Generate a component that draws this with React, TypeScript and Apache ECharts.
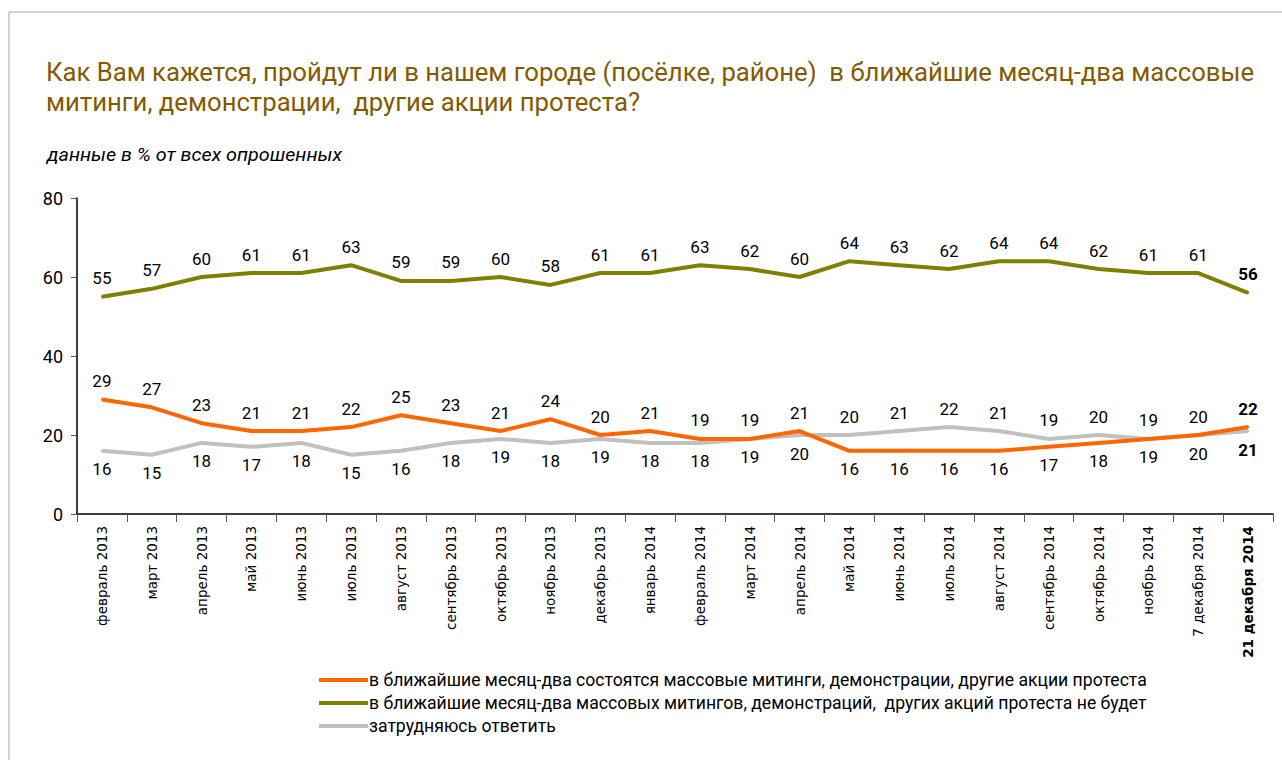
import React, { useEffect, useRef } from "react";
import * as echarts from "echarts";

const categories = [
  "февраль 2013", "март 2013", "апрель 2013", "май 2013", "июнь 2013", "июль 2013",
  "август 2013", "сентябрь 2013", "октябрь 2013", "ноябрь 2013", "декабрь 2013", "январь 2014",
  "февраль 2014", "март 2014", "апрель 2014", "май 2014", "июнь 2014", "июль 2014",
  "август 2014", "сентябрь 2014", "октябрь 2014", "ноябрь 2014", "7 декабря 2014", "21 декабря 2014",
];
const willHappen = [29, 27, 23, 21, 21, 22, 25, 23, 21, 24, 20, 21, 19, 19, 21, 16, 16, 16, 16, 17, 18, 19, 20, 22];
const wontHappen = [55, 57, 60, 61, 61, 63, 59, 59, 60, 58, 61, 61, 63, 62, 60, 64, 63, 62, 64, 64, 62, 61, 61, 56];
const hardToSay = [16, 15, 18, 17, 18, 15, 16, 18, 19, 18, 19, 18, 18, 19, 20, 20, 21, 22, 21, 19, 20, 19, 20, 21];
const yTicks = { min: 0, max: 80, interval: 20 };

const seriesNames = [
  "в ближайшие месяц-два состоятся массовые митинги, демонстрации, другие акции протеста",
  "в ближайшие месяц-два массовых митингов, демонстраций,  других акций протеста не будет",
  "затрудняюсь ответить",
];
const titleLines = [
  "Как Вам кажется, пройдут ли в нашем городе (посёлке, районе)  в ближайшие месяц-два массовые",
  "митинги, демонстрации,  другие акции протеста?",
];
const subtitle = "данные в % от всех опрошенных";

const FONT = "Roboto, 'Noto Sans', sans-serif";

function measure(text: string, font: string): number {
  const c = document.createElement("canvas");
  const ctx = c.getContext("2d");
  if (!ctx) return 1;
  ctx.font = font;
  return ctx.measureText(text).width || 1;
}

export default function App() {
  const ref = useRef<HTMLDivElement>(null);
  useEffect(() => {
    if (!ref.current) return;
    const chart = echarts.init(ref.current, undefined, { renderer: "svg" });
    const last = categories.length - 1;

    const titleFont = `26px ${FONT}`;
    const titleScale = 1209 / measure(titleLines[0], titleFont);
    const subFont = `italic 19px ${FONT}`;
    const subScale = 295 / measure(subtitle, subFont);
    const legendSize = (18 * 778) / measure(seriesNames[0], `18px ${FONT}`);

    const mk = (vals: number[], sideFn: (i: number) => "top" | "bottom") =>
      vals.map((v, i) => ({
        value: v,
        label: { position: sideFn(i), fontWeight: i === last ? "bold" : "normal" },
      }));
    const lineLabel = {
      show: true,
      distance: 9,
      fontFamily: FONT,
      fontSize: 17,
      color: "#000",
    };
    const lineSeries = (name: string, color: string, data: any[], z: number) => ({
      name,
      type: "line",
      symbol: "circle",
      symbolSize: 2,
      showSymbol: true,
      color,
      itemStyle: { color },
      lineStyle: { width: 4, color },
      label: lineLabel,
      data,
      z,
    });

    chart.setOption({
      animation: false,
      backgroundColor: "#fff",
      graphic: [
        {
          type: "rect",
          shape: { x: 9, y: 12, width: 2000, height: 2000 },
          style: { fill: "none", stroke: "#aaa", lineWidth: 1 },
          silent: true,
        },
        ...titleLines.map((t, i) => ({
          type: "text",
          x: 46,
          y: 72 + i * 30,
          scaleX: titleScale,
          style: {
            text: t,
            font: titleFont,
            fill: "#845A00",
            verticalAlign: "middle",
          },
        })),
        {
          type: "text",
          x: 47,
          y: 155,
          scaleX: subScale,
          style: {
            text: subtitle,
            font: subFont,
            fill: "#000",
            verticalAlign: "middle",
          },
        },
      ],
      legend: {
        orient: "vertical",
        left: 314,
        top: 666,
        itemWidth: 49,
        itemHeight: 4,
        itemGap: 5,
        icon: "rect",
        textStyle: {
          fontFamily: FONT,
          fontSize: legendSize,
          lineHeight: 18,
          height: 18,
          color: "#000",
          padding: [0, 0, 0, -4],
        },
        data: seriesNames,
      },
      grid: { left: 77, right: 9, top: 198, bottom: 246, containLabel: false },
      xAxis: {
        type: "category",
        data: categories,
        boundaryGap: true,
        axisLine: { lineStyle: { color: "#000", width: 1.5 } },
        axisTick: { show: true, length: 8, interval: 0, lineStyle: { color: "#555" } },
        axisLabel: {
          interval: 0,
          rotate: 90,
          margin: 12,
          fontFamily: "'DejaVu Sans', sans-serif",
          fontSize: 13.5,
          color: "#000",
          formatter: (v: string, i: number) => (i === last ? `{b|${v}}` : v),
          rich: { b: { fontWeight: "bold", fontFamily: "'DejaVu Sans', sans-serif", fontSize: 13.5, color: "#000" } },
        },
      },
      yAxis: {
        type: "value",
        min: yTicks.min,
        max: yTicks.max,
        interval: yTicks.interval,
        splitLine: { show: false },
        axisLine: { show: true, lineStyle: { color: "#000", width: 1.5 } },
        axisTick: { show: true, length: 6, lineStyle: { color: "#555" } },
        axisLabel: { fontFamily: FONT, fontSize: 18, color: "#000", margin: 14 },
      },
      series: [
        lineSeries(seriesNames[0], "#FF6600", mk(willHappen, (i) => (i >= 15 && i <= 22 ? "bottom" : "top")), 3),
        lineSeries(seriesNames[1], "#808000", mk(wontHappen, () => "top"), 3),
        lineSeries(seriesNames[2], "#C0C0C0", mk(hardToSay, (i) => (i >= 15 && i <= 22 ? "top" : "bottom")), 2),
      ],
    });
    return () => chart.dispose();
  }, []);
  return (
    <div
      ref={ref}
      style={{ position: "absolute", left: 0, top: 0, width: 1282, height: 760 }}
    />
  );
}
